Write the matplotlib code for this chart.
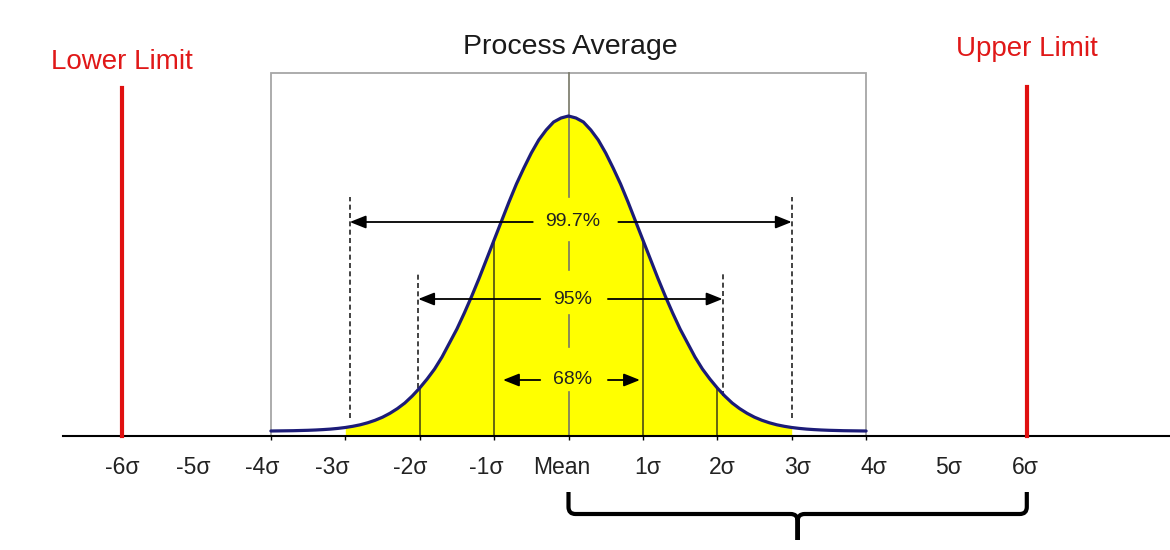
import numpy as np
import matplotlib
matplotlib.use("Agg")
import matplotlib.pyplot as plt
from matplotlib.path import Path
from matplotlib.patches import PathPatch, Rectangle

plt.rcParams['font.family'] = ['Liberation Sans', 'DejaVu Sans']

# ---- data (x in sigma units, y in px above the baseline) ----
half_h = [320, 318, 314, 306, 296, 283, 268, 252, 234, 215, 196, 177, 158, 140, 123,
          107, 93, 79, 67, 57, 48, 40, 33, 27.4, 22.7, 18.8, 15.7, 13.2, 11.2, 9.7, 8.5,
          7.6, 6.9, 6.4, 6.0, 5.7, 5.5, 5.3, 5.2, 5.1, 5.0]   # read at 0, 0.1, ... 4.0 sigma
curve_x = np.round(np.arange(-4.0, 4.01, 0.1), 2)
curve_h = half_h[:0:-1] + half_h

tick_labels = ['-6σ', '-5σ', '-4σ', '-3σ', '-2σ', '-1σ', 'Mean', '1σ', '2σ', '3σ', '4σ', '5σ', '6σ']
tick_label_x = [-6.0, -5.05, -4.12, -3.17, -2.13, -1.11, -0.09, 1.06, 2.06, 3.08, 4.11, 5.11, 6.14]
tick_marks = [-4, -3, -2, -1, 0, 1, 2, 3, 4]

inner_lines = [-2, -1, 1, 2]          # solid lines under the curve
limit_x = [-6.0, 6.16]
limit_names = ['Lower Limit', 'Upper Limit']
limit_top = [348, 349]
limit_label_h = [374, 387]

pct_labels = ['99.7%', '95%', '68%']
pct_h = [214, 137, 56]
pct_left = [-2.94, -2.02, -0.88]
pct_right = [3.0, 2.07, 0.96]
pct_gap_left = [-0.48, -0.38, -0.38]
pct_gap_right = [0.67, 0.53, 0.53]
guide_top = [239, 164]                # dashed guide lines for 99.7% and 95%
guide_bottom = [18, None]

mean_segments = [(239, 363), (166, 194), (89, 121), (0, 44)]

PX = 74.4   # pixels per sigma

fig = plt.figure(figsize=(11.7, 5.5), dpi=100)
ax = fig.add_axes([0, 0, 1, 1])
ax.set_xlim(-568.5 / PX, (1170 - 568.5) / PX)
ax.set_ylim(-114, 436)
ax.axis('off')

cx = np.array(curve_x)
ch = np.array(curve_h, dtype=float)

# process box
ax.add_patch(Rectangle((-4, 0), 8, 363, fill=False, ec='#a6a6a6', lw=1.3, zorder=1))

# yellow area +-3 sigma
mask = (cx >= -3.0) & (cx <= 3.0)
ax.fill_between(cx[mask], 0, ch[mask], color='#ffff00', lw=0, zorder=2)

# solid lines under curve
for s in inner_lines:
    top = ch[np.argmin(np.abs(cx - s))]
    ax.plot([s, s], [0, top], color='#3c3c14', lw=1.1, zorder=3)

# dashed guides
for i in range(2):
    for s in (pct_left[i], pct_right[i]):
        bot = guide_bottom[i]
        if bot is None:
            bot = ch[np.argmin(np.abs(cx - s))]
        ax.plot([s, s], [bot, guide_top[i]], color='#222222', lw=1.2,
                ls=(0, (3, 2)), zorder=3)

# mean line
for lo, hi in mean_segments:
    ax.plot([0, 0], [lo, hi], color='#777766', lw=1.2, zorder=3)

# curve
ax.plot(cx, ch, color='#1c1c78', lw=2.3, zorder=4, solid_capstyle='round')

# baseline and ticks
ax.plot([-6.79, 8.1], [0, 0], color='black', lw=1.5, zorder=5)
ax.vlines(tick_marks, -4, 0, color='black', lw=1.0, zorder=5)

# limits
for x, name, top, lh in zip(limit_x, limit_names, limit_top, limit_label_h):
    ax.plot([x, x], [0, top], color='#e01010', lw=3.0, zorder=5)
    ax.text(x, lh, name, color='#e01818', fontsize=20, ha='center', va='center')

ax.text(0.03, 389, 'Process Average', color='#1a1a1a', fontsize=20.5,
        ha='center', va='center')

# percentage arrows
arrow = dict(arrowstyle='-|>,head_length=0.75,head_width=0.3', color='black',
             lw=1.3, mutation_scale=13, shrinkA=0, shrinkB=0)
for lab, h, l, r, gl, gr in zip(pct_labels, pct_h, pct_left, pct_right,
                                pct_gap_left, pct_gap_right):
    ax.annotate('', xy=(l, h), xytext=(gl, h), arrowprops=arrow, zorder=6)
    ax.annotate('', xy=(r, h), xytext=(gr, h), arrowprops=arrow, zorder=6)
    ax.text(0.06, h, lab, fontsize=14, ha='center', va='center',
            color='#222222', zorder=6)

# tick labels
for x, lab in zip(tick_label_x, tick_labels):
    ax.text(x, -32, lab, fontsize=16.5, ha='center', va='center', color='#222222')

# brace from mean to 6 sigma
b_left, b_right = 0.0, limit_x[1]
b_mid = (b_left + b_right) / 2
top, hor, tip = -56, -78, -104
r = 7 / PX
verts, codes = [], []
for x0, sgn in ((b_left, 1), (b_right, -1)):
    verts += [(x0, top), (x0, hor + 7), (x0, hor), (x0 + sgn * r, hor),
              (b_mid - sgn * r, hor), (b_mid, hor), (b_mid, hor - 7), (b_mid, tip)]
    codes += [Path.MOVETO, Path.LINETO, Path.CURVE3, Path.CURVE3,
              Path.LINETO, Path.CURVE3, Path.CURVE3, Path.LINETO]
ax.add_patch(PathPatch(Path(verts, codes), fill=False, lw=3.0, ec='black',
                       capstyle='butt', joinstyle='round', zorder=5))

fig.savefig('out.png', dpi=100)
